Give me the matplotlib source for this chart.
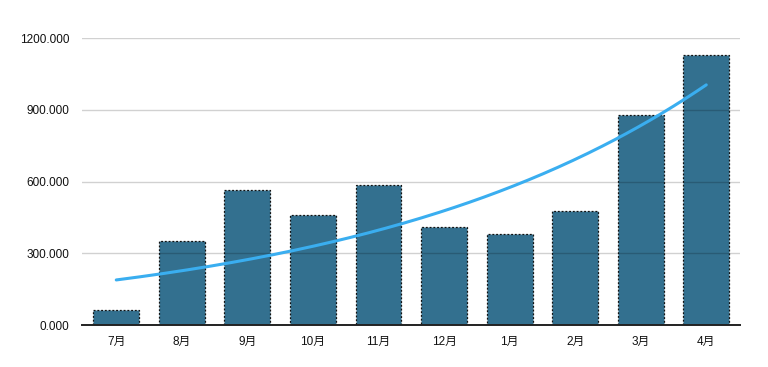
#!/usr/bin/env python3

"""
Monthly bars with an exponential trend line.
"""

import matplotlib
matplotlib.use("Agg")
import matplotlib.pyplot as plt
from matplotlib.ticker import FuncFormatter
import numpy as np

months = ["7月", "8月", "9月", "10月", "11月", "12月", "1月", "2月", "3月", "4月"]
values = [63, 351, 564, 460, 585, 410, 380, 477, 878, 1129]
y_ticks = [0, 300, 600, 900, 1200]


def main():
    plt.rcParams["font.family"] = ["Liberation Sans", "Noto Sans CJK SC", "DejaVu Sans"]

    fig = plt.figure(figsize=(7.68, 3.67), dpi=100)
    ax = fig.add_axes([0.107, 0.114, 0.857, 0.782])

    x = np.arange(len(months))
    ax.bar(x, values, width=0.7, color="#33708f",
           edgecolor="#111111", linewidth=0.9, linestyle=(0, (1.5, 1.5)),
           zorder=2)

    # exponential trend fitted to the bars
    b, a = np.polyfit(x, np.log(values), 1)
    xs = np.linspace(x[0], x[-1], 200)
    ax.plot(xs, np.exp(a + b * xs), color="#3aaef0", linewidth=2.2,
            solid_capstyle="round", zorder=4)

    ax.set_xlim(-0.52, len(months) - 0.48)
    ax.set_ylim(0, 1200)
    ax.set_yticks(y_ticks)
    ax.yaxis.set_major_formatter(FuncFormatter(lambda v, p: f"{v:.3f}"))
    ax.set_xticks(x)
    ax.set_xticklabels(months)

    ax.grid(axis="y", color="black", alpha=0.18, linewidth=1.0, zorder=3)
    ax.set_axisbelow(False)
    ax.grid(axis="x", visible=False)
    for side in ["left", "right", "top"]:
        ax.spines[side].set_visible(False)
    ax.spines["bottom"].set_linewidth(1.4)
    ax.spines["bottom"].set_color("#222222")
    ax.spines["bottom"].set_zorder(5)
    ax.tick_params(axis="both", length=0, labelsize=8.5, colors="#111111")
    ax.tick_params(axis="y", pad=9)
    ax.tick_params(axis="x", pad=8)

    fig.savefig("out.png", dpi=100)


if __name__ == "__main__":
    main()
